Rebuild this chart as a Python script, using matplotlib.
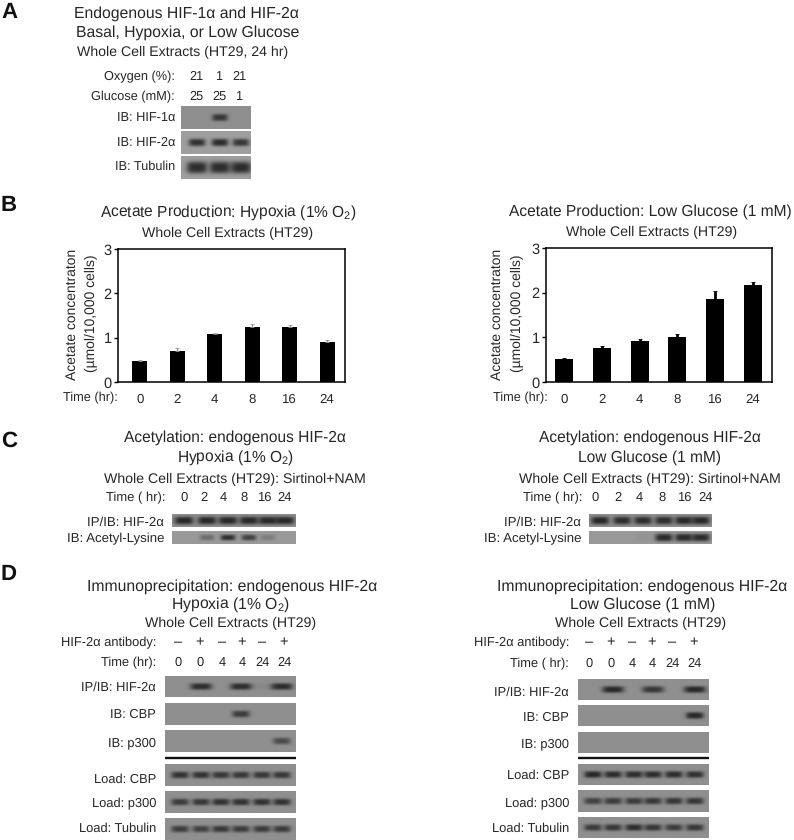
import numpy as np
import matplotlib
matplotlib.use('Agg')
import matplotlib.pyplot as plt

plt.rcParams['font.family'] = ['Liberation Sans', 'DejaVu Sans']
plt.rcParams['mathtext.fontset'] = 'custom'
plt.rcParams['mathtext.rm'] = 'Liberation Sans'
plt.rcParams['mathtext.default'] = 'rm'
plt.rcParams['text.hinting'] = 'none'

# bar data
times = ['0', '2', '4', '8', '16', '24']
hypoxia_acetate = [0.48, 0.71, 1.08, 1.23, 1.24, 0.90]
hypoxia_err = [0.02, 0.05, 0.03, 0.07, 0.04, 0.04]
glucose_acetate = [0.51, 0.76, 0.92, 1.01, 1.86, 2.18]
glucose_err = [0.02, 0.05, 0.04, 0.06, 0.17, 0.05]

# band strengths per lane
a_hif1 = [0, 0.85, 0]
a_hif2 = [0.95, 1.0, 0.9]
a_tub = [1.0, 1.0, 1.0]
c_hyp_hif2 = [1.0, 1.0, 1.0, 1.0, 1.0, 1.0]
c_hyp_acetyl = [0, 0.4, 0.95, 0.8, 0.25, 0]
c_glu_hif2 = [1.0, 0.95, 0.95, 0.95, 1.0, 1.0]
c_glu_acetyl = [0, 0, 0.05, 1.0, 1.0, 1.0]
d_hyp_hif2 = [0, 0.95, 0, 0.95, 0.08, 0.95]
d_hyp_cbp = [0, 0, 0, 0.8, 0, 0]
d_hyp_p300 = [0, 0, 0, 0, 0, 0.65]
d_glu_hif2 = [0, 1.0, 0, 0.85, 0, 1.0]
d_glu_cbp = [0, 0, 0, 0, 0, 1.0]
d_glu_p300 = [0, 0, 0, 0, 0, 0]
d_hyp_load_cbp = [0.9, 0.9, 0.85, 0.85, 0.85, 0.85]
d_hyp_load_p300 = [0.8, 0.85, 0.9, 0.9, 0.9, 0.9]
d_hyp_load_tub = [0.8, 0.75, 0.85, 0.8, 0.8, 0.8]
d_glu_load_cbp = [1.0, 0.95, 0.95, 0.95, 0.95, 0.9]
d_glu_load_p300 = [0.75, 0.8, 0.8, 0.85, 0.85, 0.85]
d_glu_load_tub = [0.8, 0.85, 0.95, 0.85, 0.8, 0.85]

dark = '#262626'

fig = plt.figure(figsize=(7.94, 8.40), dpi=100)
bg = fig.add_axes([0, 0, 1, 1])
bg.set_axis_off()


def txt(x, y, s, size=9, ha='center', **kw):
    bg.text(x, y + 0.8, s, fontsize=size, ha=ha, va='center', color=kw.pop('color', dark), **kw)


def blot(x0, x1, y0, y1, lanes, levels, halfw=9.5, halfh=3.4, base=0.56):
    # grey film strip with soft dark bands, 3 samples per pixel
    xs = np.linspace(x0, x1, int((x1 - x0) * 3))
    ys = np.linspace(y0, y1, int((y1 - y0) * 3))
    xx, yy = np.meshgrid(xs, ys)
    img = np.full(xx.shape, base)
    yc = (y0 + y1) / 2
    for lane, level in zip(lanes, levels):
        shape = np.exp(-((xx - lane) / halfw) ** 4 - np.abs((yy - yc) / halfh) ** 3)
        img = img * (1 - np.clip(level, 0, 1) * 0.72 * shape)
    bg.imshow(img, extent=(x0, x1, y1, y0), cmap='gray', vmin=0, vmax=1,
              aspect='auto', interpolation='bilinear')


def bars(box, centres, vals, errs, width, errcolor, err_lw, ylab_x, time_right):
    left, right, top, bottom = box
    ax = fig.add_axes([left / 794, 1 - bottom / 840, (right - left) / 794, (bottom - top) / 840])
    step = centres[1] - centres[0]
    x = np.arange(len(vals))
    ax.bar(x, vals, width=width / step, color='black',
           yerr=[[0] * len(errs), errs], ecolor=errcolor, error_kw={'elinewidth': err_lw, 'capsize': 1.2, 'capthick': 0.6})
    ax.set_xlim((left - centres[0]) / step, (right - centres[0]) / step)
    ax.set_ylim(0, 3)
    ax.set_yticks([0, 1, 2, 3])
    ax.set_xticks(x)
    ax.set_xticklabels(times)
    ax.tick_params(axis='x', length=0, pad=8, labelsize=9.5, labelcolor=dark)
    ax.tick_params(axis='y', length=3, width=1, pad=1.5, labelsize=10.5, labelcolor=dark)
    for s in ax.spines.values():
        s.set_linewidth(1.1)
    ax.patch.set_alpha(0)
    txt(time_right, 397.5, 'Time (hr):', 9.2, ha='right')
    txt(ylab_x[0], 314, 'Acetate concentraton', 10, rotation=90)
    txt(ylab_x[1], 312, '(\u00b5mol/10,000 cells)', 10, rotation=90)


# panel letters
for letter, y in zip('ABCD', [12, 205, 440, 574]):
    txt(1, y, letter, 16, ha='left', fontweight='bold', color='#111111')

# A
txt(186, 13, 'Endogenous HIF-1\u03b1 and HIF-2\u03b1', 11.3)
txt(188, 32, 'Basal, Hypoxia, or Low Glucose', 11.3)
txt(183, 52, 'Whole Cell Extracts (HT29, 24 hr)', 10.2)
txt(175, 76, 'Oxygen (%):', 9.2, ha='right')
txt(175, 96, 'Glucose (mM):', 9.2, ha='right')
for xp, o, g in zip([196, 219, 239], ['21', '1', '21'], ['25', '25', '1']):
    txt(xp, 76, o, 9.2)
    txt(xp, 96, g, 9.2)
a_lanes = [197, 220, 241]
blot(181, 251, 106, 129, a_lanes, a_hif1, halfw=8, halfh=3.6)
blot(181, 251, 131, 154, a_lanes, a_hif2, halfw=8.5, halfh=3.8, base=0.62)
blot(181, 251, 156, 179, a_lanes, a_tub, halfw=10.5, halfh=6, base=0.62)
txt(175, 118, 'IB: HIF-1\u03b1', 9.2, ha='right')
txt(175, 142, 'IB: HIF-2\u03b1', 9.2, ha='right')
txt(175, 166, 'IB: Tubulin', 9.2, ha='right')

# B
txt(228, 212, 'Acetate Production: Hypoxia (1% O$_2$)', 11.2)
txt(228, 233, 'Whole Cell Extracts (HT29)', 10.2)
txt(650, 211, 'Acetate Production: Low Glucose (1 mM)', 11.2)
txt(652, 232, 'Whole Cell Extracts (HT29)', 10.2)
bars((118, 345, 249, 382), [140, 177.4, 214.8, 252.2, 289.6, 327], hypoxia_acetate, hypoxia_err, 15, '#999999', 1.0, (72, 91), 118)
bars((546, 772, 248, 382), [564, 601.8, 639.6, 677.4, 715.2, 753], glucose_acetate, glucose_err, 18, 'black', 2.0, (497, 517), 548)

# C
txt(235, 437, 'Acetylation: endogenous HIF-2\u03b1', 11.2)
txt(236, 457, 'Hypoxia (1% O$_2$)', 11.2)
txt(235, 479, 'Whole Cell Extracts (HT29): Sirtinol+NAM', 10.2)
txt(165, 497, 'Time ( hr):', 9.4, ha='right')
for xp, t in zip([184, 204, 223, 244, 264, 285], times):
    txt(xp, 497, t, 9.4)
c_left = [184, 207, 228, 249, 268, 285]
blot(172, 296, 514, 527, c_left, c_hyp_hif2, halfw=9.5, halfh=4)
blot(172, 296, 531, 544, c_left, c_hyp_acetyl, halfw=7.5, halfh=3, base=0.6)
txt(164, 522, 'IP/IB: HIF-2\u03b1', 9.5, ha='right')
txt(164, 538, 'IB: Acetyl-Lysine', 9.5, ha='right')

txt(650, 437, 'Acetylation: endogenous HIF-2\u03b1', 11.2)
txt(649, 457, 'Low Glucose (1 mM)', 11.2)
txt(650, 479, 'Whole Cell Extracts (HT29): Sirtinol+NAM', 10.2)
txt(582, 497, 'Time ( hr):', 9.4, ha='right')
for xp, t in zip([595, 618, 639, 662, 684, 706], times):
    txt(xp, 497, t, 9.4)
c_right = [600, 622, 643, 664, 684, 701]
blot(589, 712, 514, 527, c_right, c_glu_hif2, halfw=9, halfh=4)
blot(589, 712, 531, 544, c_right, c_glu_acetyl, halfw=9, halfh=4, base=0.6)
txt(581, 522, 'IP/IB: HIF-2\u03b1', 9.5, ha='right')
txt(581, 538, 'IB: Acetyl-Lysine', 9.5, ha='right')

# D
signs = ['\u2013', '+', '\u2013', '+', '\u2013', '+']
d_times = ['0', '0', '4', '4', '24', '24']


def d_panel(title_x, titles, label_right, sign_xs, y_time, strip_x, strips, levels, lanes, ip_halfw, label_ys, time_label):
    for xp, yp, s, size in zip(title_x, [586, 604, 623], titles, [11.3, 11.3, 10.2]):
        txt(xp, yp, s, size)
    txt(label_right, 642, 'HIF-2\u03b1 antibody:', 9.3, ha='right')
    txt(label_right, y_time, time_label, 9.3, ha='right')
    for xp, s, t in zip(sign_xs, signs, d_times):
        txt(xp, 642, s, 10.5)
        txt(xp, y_time, t, 9.3)
    names = ['IP/IB: HIF-2\u03b1', 'IB: CBP', 'IB: p300', 'Load: CBP', 'Load: p300', 'Load: Tubulin']
    for i in range(6):
        halfw = ip_halfw if i == 0 else 9
        blot(strip_x[0], strip_x[1], strips[i][0], strips[i][1], lanes, levels[i], halfw=halfw, halfh=3.4)
        txt(label_right, label_ys[i], names[i], 9.3, ha='right')
    bg.plot(strip_x, [758, 758], color='#111111', lw=1.7, solid_capstyle='butt')


d_panel([232, 230, 231],
        ['Immunoprecipitation: endogenous HIF-2\u03b1', 'Hypoxia (1% O$_2$)', 'Whole Cell Extracts (HT29)'],
        156, [178, 200, 222, 242, 262, 284], 662, (165, 296),
        [(676, 697), (703, 725), (730, 752), (764, 786), (791, 813), (818, 840)],
        [d_hyp_hif2, d_hyp_cbp, d_hyp_p300, d_hyp_load_cbp, d_hyp_load_p300, d_hyp_load_tub],
        [180, 201, 221, 241, 262, 282], 11,
        [687, 714, 742, 779, 803, 828], 'Time (hr):')
d_panel([642, 643, 641],
        ['Immunoprecipitation: endogenous HIF-2\u03b1', 'Low Glucose (1 mM)', 'Whole Cell Extracts (HT29)'],
        569, [589, 611, 632, 652, 672, 694], 663, (578, 709),
        [(679, 700), (705, 726), (732, 753), (764, 785), (790, 812), (817, 838)],
        [d_glu_hif2, d_glu_cbp, d_glu_p300, d_glu_load_cbp, d_glu_load_p300, d_glu_load_tub],
        [593, 613, 634, 653, 674, 695], 11,
        [692, 717, 743, 775, 803, 828], 'Time ( hr):')

bg.set_xlim(0, 794)
bg.set_ylim(840, 0)

fig.savefig('out.png', dpi=100)
